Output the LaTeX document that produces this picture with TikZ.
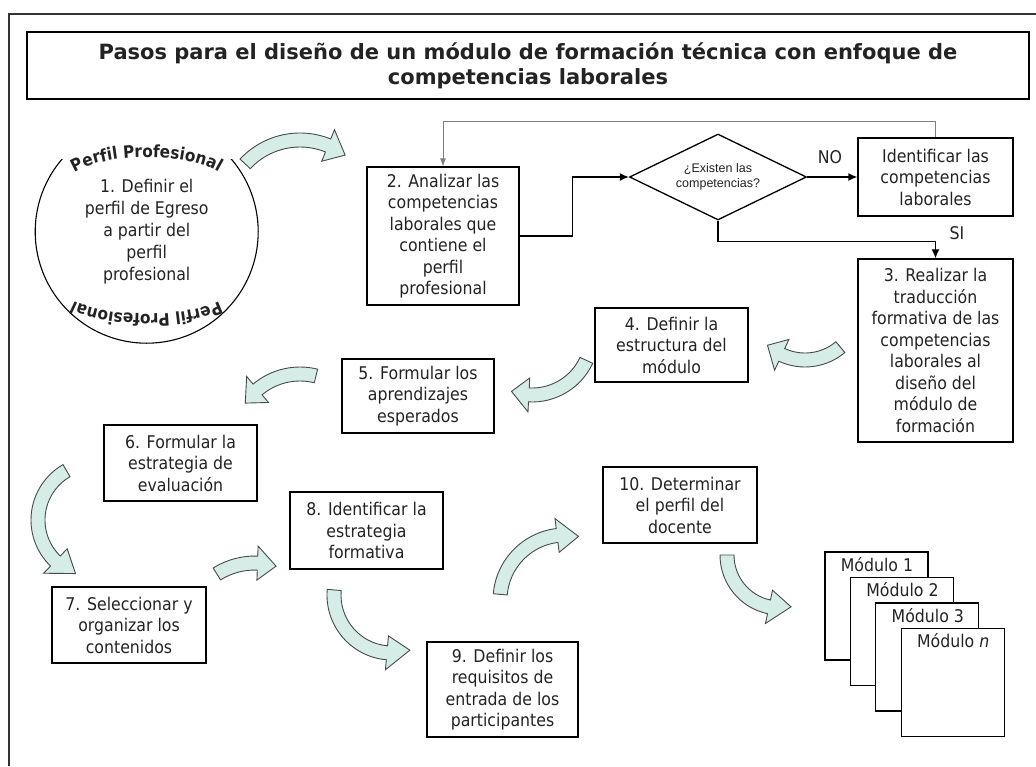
\documentclass[tikz,border=0pt]{standalone}
\usepackage{fontspec}
\setmainfont{DejaVu Sans}[FakeStretch=0.9]
\newfontfamily\titulofont{DejaVu Sans}
\newfontfamily\arialfont{Liberation Sans}
\usetikzlibrary{shapes.geometric}
\usetikzlibrary{arrows.meta}
\usetikzlibrary{decorations.text}
\usetikzlibrary{calc}

\definecolor{relleno}{RGB}{214,236,230}
\definecolor{contorno}{RGB}{70,75,75}
\definecolor{tinta}{RGB}{35,35,35}

\newcommand{\textopaso}{\fontsize{17.5}{21.5}\selectfont}
\newcommand{\textoarco}{\bfseries\fontsize{17}{17}\selectfont}

% flecha curva de bloque: centro, radio, angulo inicial, base de la punta, punta
\newcommand{\flechacurva}[5]{%
  \pgfmathsetmacro\radext{#2+7}\pgfmathsetmacro\radint{#2-7}%
  \pgfmathsetmacro\puntaext{#2+17}\pgfmathsetmacro\puntaint{#2-17}%
  \begin{scope}[shift={#1}]
    \filldraw[bloque] (#3:\radext) arc[start angle=#3, end angle=#4, radius=\radext]
      -- (#4:\puntaext) -- (#5:#2) -- (#4:\puntaint) -- (#4:\radint)
      arc[start angle=#4, end angle=#3, radius=\radint] -- cycle;
  \end{scope}}

\tikzset{
  paso/.style={draw=black, line width=1.3pt, text=tinta, align=center, inner sep=0pt, font=\textopaso},
  bloque/.style={fill=relleno, draw=contorno, line width=0.9pt},
  flecha/.style={line width=1.3pt, -{Latex[length=9pt,width=8pt]}},
  retorno/.style={gray, line width=0.8pt, -{Latex[length=8pt,width=6pt]}},
  arco/.style={decorate, decoration={text along path, text color=tinta, text align=center,
        text={|\textoarco|Perfil Profesional}}},
  modulo/.style={draw, fill=white, line width=1.3pt, minimum width=103pt, minimum height=108pt, inner sep=0pt},
}

\begin{document}
\begin{tikzpicture}[x=1pt,y=1pt]
    \useasboundingbox (0,0) rectangle (1036,-766);
    \fill[white] (0,0) rectangle (1036,-766);
    \draw[line width=1.8pt, black!80] (9,-766) -- (9,-14) -- (1036,-14);

    \node[paso, line width=1.8pt, minimum width=1002pt, minimum height=67pt,
          font=\titulofont\bfseries\fontsize{21}{25}\selectfont] (titulo) at (528,-65.5)
          {Pasos para el diseño de un módulo de formación técnica con enfoque de\\competencias laborales};

    % paso 1 con el texto en arco
    \node[circle, draw, line width=1.1pt, minimum size=223pt, inner sep=0pt, align=center, text=tinta,
          font=\fontsize{17.5}{22}\selectfont] (p1) at (146.7,-231.7)
          {1. Definir el\\perfil de Egreso\\a partir del\\perfil\\profesional};
    \fill[white] (40,-159) rectangle (253,-115);
    \path[arco] (62,-185) .. controls (80,-148) and (213,-148) .. (231,-185);
    \path[arco] (232,-290) .. controls (214,-322) and (79,-322) .. (61,-290);

    \node[paso, minimum width=152pt, minimum height=138pt] (p2) at (443,-236)
          {2. Analizar las\\competencias\\laborales que\\contiene el\\perfil\\profesional};
    \node[diamond, draw, line width=1.3pt, aspect=2.06, minimum width=177pt, minimum height=86pt,
          inner sep=0pt, align=center, text=tinta, font=\arialfont\fontsize{12.5}{15}\selectfont]
          (dec) at (718,-177) {¿Existen las\\competencias?};
    \node[paso, minimum width=155pt, minimum height=78pt] (ident) at (935.5,-177)
          {Identificar las\\competencias\\laborales};
    \node[paso, minimum width=155pt, minimum height=183pt] (p3) at (935.5,-350.5)
          {3. Realizar la\\traducción\\formativa de las\\competencias\\laborales al\\diseño del\\módulo de\\formación};
    \node[paso, minimum width=153pt, minimum height=74pt] (p4) at (671.5,-345)
          {4. Definir la\\estructura del\\módulo};
    \node[paso, minimum width=152pt, minimum height=74pt] (p5) at (418,-396)
          {5. Formular los\\aprendizajes\\esperados};
    \node[paso, minimum width=153pt, minimum height=76pt] (p6) at (180.5,-463)
          {6. Formular la\\estrategia de\\evaluación};
    \node[paso, minimum width=154pt, minimum height=76pt] (p7) at (129,-625)
          {7. Seleccionar y\\organizar los\\contenidos};
    \node[paso, minimum width=153pt, minimum height=77pt] (p8) at (366.5,-530.5)
          {8. Identificar la\\estrategia\\formativa};
    \node[paso, minimum width=151pt, minimum height=95pt] (p9) at (502.5,-689.5)
          {9. Definir los\\requisitos de\\entrada de los\\participantes};
    \node[paso, minimum width=154pt, minimum height=76pt] (p10) at (680,-505)
          {10. Determinar\\el perfil del\\docente};

    \node[text=tinta, font=\textopaso] (no) at (830,-157) {NO};
    \node[text=tinta, font=\textopaso] (si) at (957,-233) {SI};

    \draw[retorno] (ident.north) -- ++(0,16) -| (p2.north);
    \draw[flecha] (p2.east) -- ++(53,0) |- (dec.west);
    \draw[flecha] (dec.east) -- (ident.west);
    \draw[flecha] (dec.south) -- ++(0,-21) -| (p3.north);

    % pila de modulos
    \foreach \i/\etiqueta in {0/1,1/2,2/3,3/{\textit{n}}} {
        \node[modulo] (m\i) at (876.5+25.4*\i,-606-25.5*\i) {};
        \node[anchor=west, text=tinta, font=\textopaso] (tm\i) at ($(m\i.north west)+(13,-13)$) {Módulo \etiqueta};
    }

    \flechacurva{(300,-215)}{75}{137}{68}{53}
    \flechacurva{(805,-305)}{55}{-50}{-115}{-133}
    \flechacurva{(532,-335)}{60}{-25}{-93}{-110}
    \flechacurva{(300,-440)}{66}{76}{130}{146}
    \flechacurva{(95,-520)}{57}{120}{226}{250}
    \flechacurva{(255,-635)}{72}{122}{88}{73}
    \flechacurva{(392,-595)}{58}{175}{265}{288}
    \flechacurva{(565,-600)}{65}{175}{97}{78}
    \flechacurva{(780,-555)}{53}{180}{258}{282}
\end{tikzpicture}
\end{document}
